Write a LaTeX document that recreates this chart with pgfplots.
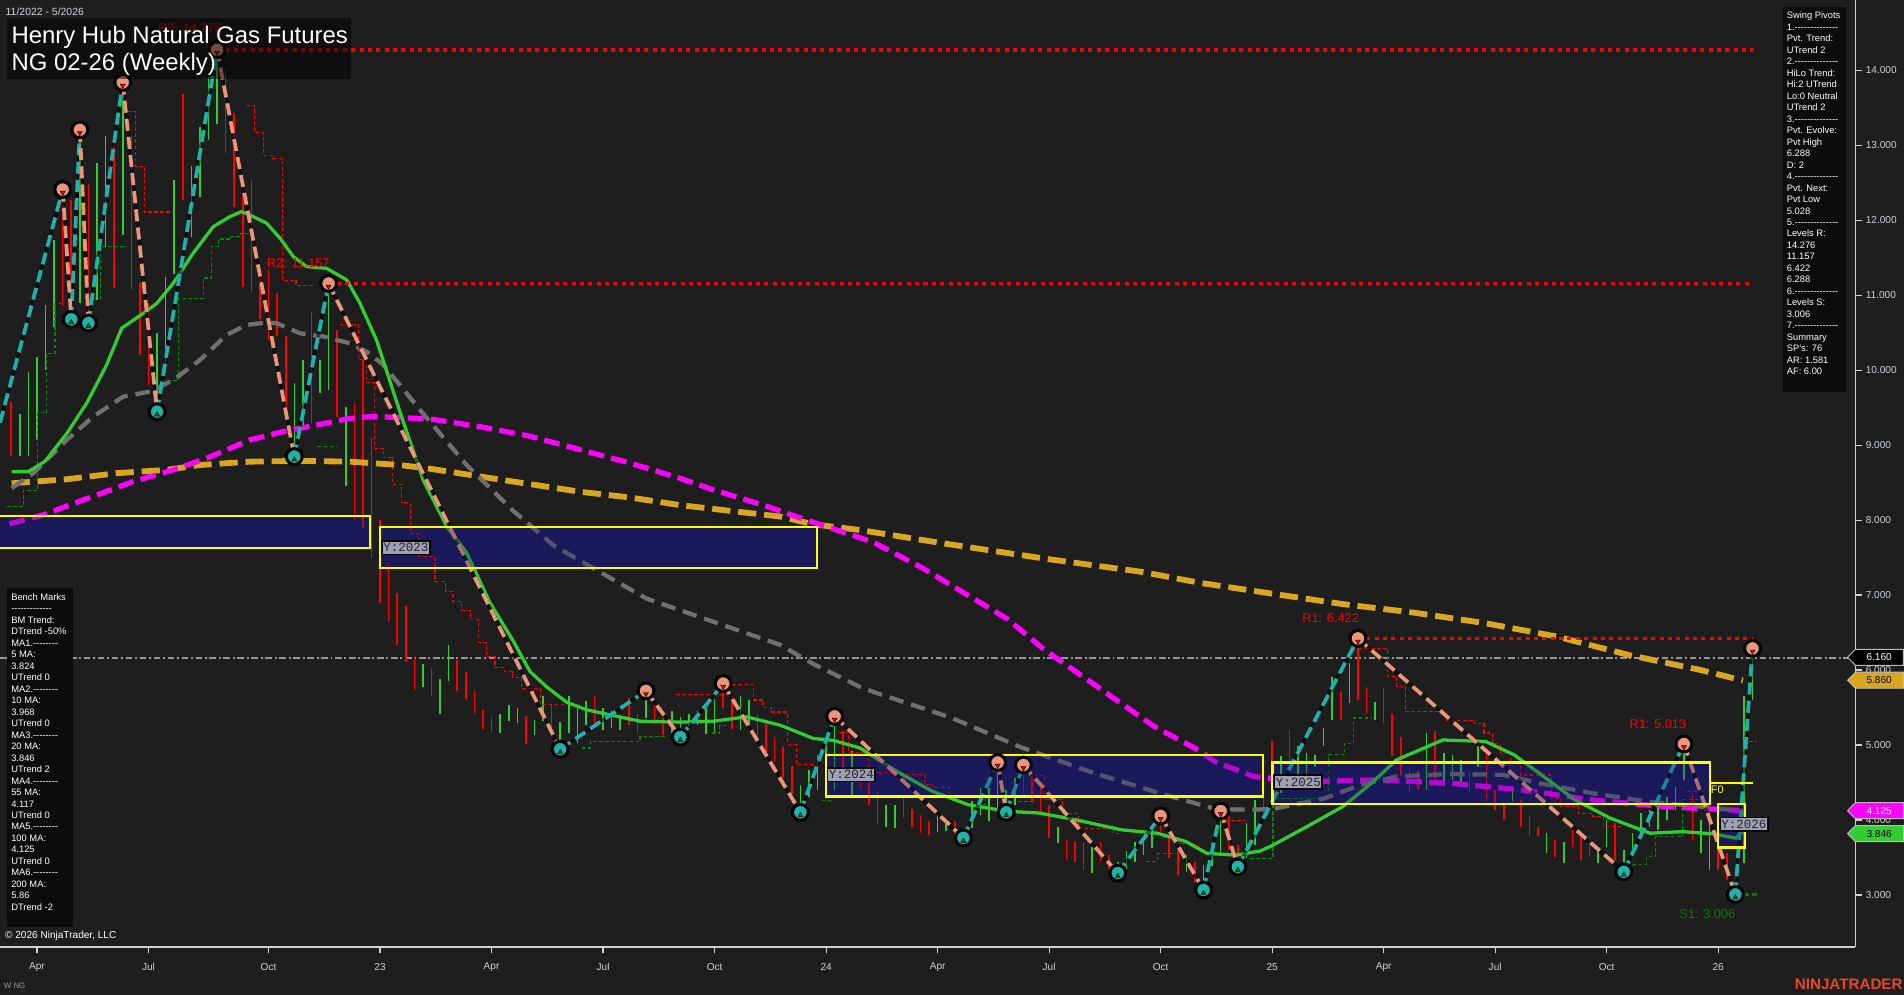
\documentclass[border=0pt]{standalone}
\usepackage{fontspec}
\setmainfont{Liberation Sans}
\newfontfamily\monof{Liberation Mono}
\usepackage{pgfplots}
\pgfplotsset{compat=1.18}
\usepackage{pgfplotstable}
\definecolor{bg}{RGB}{30,30,30}
\definecolor{candR}{RGB}{255,0,0}
\definecolor{candG}{RGB}{50,205,50}
\definecolor{teal2}{RGB}{32,178,170}
\definecolor{salmon2}{RGB}{233,150,122}
\definecolor{gold2}{RGB}{218,165,32}
\definecolor{mag2}{RGB}{255,0,255}
\definecolor{gray2}{RGB}{112,112,112}
\definecolor{ma20}{RGB}{50,205,50}
\definecolor{navyb}{RGB}{27,27,82}
\definecolor{navyo}{RGB}{25,25,112}
\definecolor{ylw}{RGB}{255,255,0}
\definecolor{stepG}{RGB}{0,140,0}
\definecolor{axcol}{RGB}{205,210,215}
\definecolor{lblbox}{RGB}{160,160,180}
\definecolor{lbltxt}{RGB}{35,35,40}
\definecolor{ntred}{RGB}{232,70,40}
\definecolor{panel}{RGB}{12,12,12}
\definecolor{s1green}{RGB}{0,128,0}
\definecolor{lastgray}{RGB}{150,150,150}
\newcommand\hyph{-{}-{}-{}-{}-{}-{}-{}-{}-{}-{}-{}-{}-{}-}
\newcommand\hyphb{-{}-{}-{}-{}-{}-{}-{}-{}-{}-{}-{}-{}-}
\newcommand\hyphs{-{}-{}-{}-{}-{}-{}-{}-}
\newcommand\panelf{\fontsize{7.7}{9}\selectfont}
\newcommand\ylab[3]{\node[anchor=west, fill=lblbox, draw=black, line width=1.5pt, inner xsep=1.2pt, inner ysep=2.2pt, text=lbltxt, font=\monof\fontsize{10.3}{11}\selectfont] at (axis cs:#1,#2) {Y:#3};}
\newcommand{\pricetag}[4]{%
  \filldraw[fill=#2, draw=gray!55, line width=0.8pt] (1521.5,#1) -- (1528,#1-6.6) -- (1567.5,#1-6.6) -- (1567.5,#1+6.6) -- (1528,#1+6.6) -- cycle;
  \node[text=#3, font=\fontsize{8.3}{10}\selectfont, inner sep=0] at (1547.5,#1) {#4};}

\pgfplotstableread{
k lo hi
-43 8.85 9.58
-37 10.85 12.41
-36 10.68 12.27
-34 10.63 12.49
-31 11.10 12.99
-29 11.07 13.12
-28 10.20 11.16
-27 9.80 10.90
-23 12.27 13.69
-18 12.90 14.00
-17 12.18 13.43
-16 11.11 12.36
-15 11.03 12.54
-14 10.68 11.29
-13 10.40 11.34
-12 10.45 11.03
-11 9.43 10.45
-8 9.29 10.78
-5 9.38 10.54
-3 8.00 9.56
-2 7.90 10.14
-1 7.50 9.10
0 6.90 8.00
1 6.64 7.42
2 6.34 7.03
3 6.11 6.85
4 5.75 6.18
6 5.65 6.03
9 5.72 6.13
10 5.62 5.98
11 5.42 5.72
12 5.21 5.47
13 5.16 5.37
17 5.01 5.39
20 5.16 5.54
25 5.27 5.65
29 5.27 5.63
30 5.16 5.42
32 5.27 5.54
33 5.13 5.37
40 5.50 5.82
41 5.21 5.65
44 5.06 5.42
45 4.87 5.28
46 4.77 5.10
47 4.56 4.97
48 4.34 4.72
54 4.61 5.19
56 4.43 4.61
57 4.20 4.52
58 3.94 4.38
61 4.03 4.29
62 3.91 4.14
63 3.82 4.07
64 3.80 3.98
67 3.76 3.98
75 4.34 4.733
76 4.25 4.61
77 4.07 4.43
78 3.76 4.20
80 3.47 3.73
81 3.44 3.71
82 3.33 3.69
84 3.44 3.71
85 3.35 3.53
91 3.80 4.053
92 3.49 3.80
93 3.26 3.62
95 3.17 3.44
99 3.60 4.05
100 3.373 3.67
103 4.09 4.40
104 4.45 5.05
106 4.71 5.20
112 5.33 5.71
114 5.60 6.422
115 5.42 5.78
117 5.29 5.76
118 4.85 5.42
119 4.58 5.11
120 4.36 4.71
121 4.40 4.65
123 4.54 5.18
127 4.36 4.62
129 4.25 4.89
130 4.13 4.40
131 4.00 4.22
133 3.91 4.27
134 3.78 4.05
135 3.78 3.91
137 3.51 3.73
139 3.64 3.87
140 3.47 3.80
141 3.51 3.78
144 3.47 3.96
153 3.73 4.36
156 3.33 3.82
157 3.20 3.56
158 3.006 3.29
}\redbars

\pgfplotstableread{
k lo hi
-42 8.85 9.41
-41 8.85 9.97
-40 9.07 10.18
-39 10.00 10.87
-38 10.58 11.74
-35 10.90 13.21
-33 10.94 12.76
-32 11.65 13.12
-30 11.80 13.84
-26 9.45 10.49
-25 9.96 11.25
-24 11.29 12.54
-22 11.78 12.72
-21 12.31 13.25
-20 13.07 13.91
-19 13.29 14.276
-10 8.85 9.83
-9 9.20 10.14
-7 9.69 10.14
-6 9.74 11.157
-4 8.45 9.51
5 5.77 6.08
7 5.42 5.88
8 5.85 6.34
14 5.16 5.42
15 5.32 5.54
16 5.29 5.50
18 5.13 5.34
19 5.32 5.65
21 4.944 5.30
22 5.16 5.65
23 5.03 5.49
24 5.27 5.59
26 5.20 5.50
27 5.22 5.45
28 5.20 5.40
31 5.36 5.72
34 5.16 5.46
35 5.106 5.37
36 5.25 5.42
37 5.27 5.45
38 5.15 5.50
39 5.17 5.62
42 5.20 5.65
43 5.25 5.60
49 4.102 4.47
50 4.30 4.67
51 4.40 4.87
52 4.30 5.06
53 4.40 5.381
55 4.30 4.92
59 3.91 4.20
60 3.89 4.20
65 3.84 4.07
66 3.85 3.94
68 3.761 3.89
69 3.89 4.25
70 4.07 4.43
71 3.98 4.43
72 4.07 4.766
73 4.102 4.40
74 4.20 4.56
79 3.69 3.91
83 3.29 3.64
86 3.292 3.44
87 3.35 3.58
88 3.44 3.71
89 3.53 3.71
90 3.62 3.89
94 3.31 3.53
96 3.065 3.40
97 3.38 3.69
98 3.53 4.118
101 3.49 3.96
102 3.67 4.27
105 4.36 4.85
107 4.53 4.98
108 4.62 4.89
109 4.71 4.87
110 4.98 5.22
111 5.33 5.91
113 5.56 6.09
116 5.33 5.58
122 4.40 5.16
124 4.45 4.89
125 4.53 4.87
126 4.44 4.80
128 4.71 4.98
132 4.25 4.42
136 3.56 3.82
138 3.42 3.71
142 3.42 3.64
143 3.64 4.00
145 3.308 3.60
146 3.51 3.82
147 3.78 4.09
148 3.91 4.13
149 3.87 4.18
150 4.00 4.31
151 4.13 4.44
152 4.53 5.013
154 3.56 4.00
155 3.33 4.09
159 3.42 5.65
160 5.60 6.288
}\greenbars

\begin{document}
\begin{tikzpicture}
\fill[bg] (0pt,-39pt) rectangle (1568pt,780pt);
\begin{axis}[
  scale only axis, width=1528pt, height=780pt,
  xmin=-44.31, xmax=172.0, ymin=2.303, ymax=14.939,
  axis x line*=bottom, axis y line*=right,
  axis line style={draw=axcol, line width=1.2pt},
  tick style={draw=axcol, line width=1pt},
  tick align=outside, major tick length=5pt,
  ytick={3,4,...,14}, scaled y ticks=false,
  yticklabel style={/pgf/number format/.cd, fixed, fixed zerofill, precision=3, assume math mode=true, /tikz/.cd},
  xtick={-40,-27,-13,0,13,26,39,52,65,78,91,104,117,130,143,156},
  xticklabels={Apr,Jul,Oct,23,Apr,Jul,Oct,24,Apr,Jul,Oct,25,Apr,Jul,Oct,26},
  xticklabel style={yshift=-4.5pt},
  ticklabel style={font=\fontsize{8.3}{10}\selectfont, text=axcol},
  unbounded coords=jump,
]
% box base fills
\fill[navyb] (axis cs:-46,7.633) rectangle (axis cs:-1.13,8.054);
\fill[navyb] (axis cs:0,7.358) rectangle (axis cs:50.96,7.909);
\fill[navyb] (axis cs:51.95,4.312) rectangle (axis cs:102.92,4.863);
\fill[navyb] (axis cs:104.05,4.215) rectangle (axis cs:155.01,4.766);
\fill[navyb] (axis cs:156.0,3.632) rectangle (axis cs:159.12,4.215);
% last price line
\addplot[draw=lastgray, line width=1.2pt, dash pattern=on 5.5pt off 2.2pt on 1.6pt off 2.2pt] coordinates {(-44.31,6.16)(172,6.16)};
% candles
\addplot[candR, line width=1.3pt, quiver={u=0, v=\thisrow{hi}-\thisrow{lo}}] table[x=k, y=lo] {\redbars};
\addplot[candG, line width=1.3pt, quiver={u=0, v=\thisrow{hi}-\thisrow{lo}}] table[x=k, y=lo] {\greenbars};
% step lines
\addplot[candR, line width=0.9pt, dash pattern=on 3pt off 2pt, const plot] coordinates {
(-29.5,13.45)(-28.5,12.72)(-27.5,12.11)(-24.5,12.11)(-24.5,nan)
(-15.6,13.53)(-14.6,13.17)(-13.6,12.87)(-12.5,12.83)(-11.4,11.2)(-9.8,11.13)(-7.7,11.13)(-7.7,nan)
(-4.7,10.61)(-2.55,10.14)(-1.6,9.83)(-0.6,8.96)(0.4,8.83)(1.4,8.48)(2.5,8.23)(3.5,7.82)(4.5,7.51)(6.4,7.18)(7.6,7.05)(8.5,6.92)(9.5,6.80)(10.5,6.67)(11.5,6.37)(12.4,6.18)(13.4,6.03)(14.5,5.98)(15.4,5.90)(16.5,5.75)(18.7,5.54)(23.3,5.54)(23.3,nan)
(34.5,5.67)(40.6,5.81)(43.5,5.60)(44.6,5.50)(45.6,5.44)(47.5,5.01)(48.5,4.74)(51.0,4.74)(51.0,nan)
(53.5,5.17)(54.6,4.90)(56.9,4.63)(60.6,4.61)(63.5,4.47)(64.4,4.43)(66.4,4.32)(68,4.32)(68,nan)
(75.5,4.59)(77.5,4.27)(79.6,4.08)(81.4,3.89)(85.5,3.82)(86.3,3.82)(86.3,nan)
(91.2,3.76)(93.1,3.69)(94.3,3.67)(95.5,3.67)(95.5,nan)
(98.5,3.99)(100.9,3.99)(100.9,nan)
(114.1,6.29)(117.4,5.91)(118.5,5.78)(119.5,5.45)(124.3,5.33)(127.6,5.29)(128.7,5.16)(129.7,5.02)(130.6,4.89)(131.8,4.78)(133,4.60)(136.6,4.29)(137.6,4.18)(139.7,4.09)(141.4,4.04)(142.6,3.91)(144.7,3.91)(144.7,nan)
(152.4,4.38)(154.2,4.38)
};
\addplot[stepG, line width=0.9pt, dash pattern=on 3pt off 2pt, const plot] coordinates {
(-43.5,8.18)(-41.6,8.40)(-39.9,9.43)(-38.9,10.22)(-37.9,10.89)(-37.0,10.89)(-37.0,nan)
(-33.5,10.96)(-32.6,11.65)(-29.5,11.65)(-29.5,nan)
(-25.5,9.86)(-23.5,10.96)(-20.6,11.23)(-19.7,11.65)(-18.8,11.75)(-17.4,11.78)(-16.3,11.82)(-15.1,11.82)(-15.1,nan)
(-7.3,8.98)(-5.0,8.98)(-5.0,nan)
(23.5,4.96)(24.5,5.05)(30.3,5.11)(33.4,5.11)(33.4,nan)
(38.7,5.16)(39.6,5.26)(40.4,5.26)(40.4,nan)
(51.5,4.26)(52.7,4.26)(52.7,nan)
(68.9,4.20)(70.6,4.33)(72.3,4.33)(72.3,nan)
(74.4,4.25)(76.4,4.25)(76.4,nan)
(89.3,3.45)(90.6,3.55)(92.7,3.55)(92.7,nan)
(101.4,3.49)(104.1,4.29)(110.6,4.87)(112.4,5.02)(113.5,5.36)(115.6,5.36)(115.6,nan)
(145.3,3.40)(147.6,3.51)(148.7,3.78)(151.8,4.27)(153.9,4.27)(153.9,nan)
(158.9,5.05)(160.5,5.05)
};
% moving averages
\addplot[gold2, line width=4.8pt, dash pattern=on 15pt off 6.5pt] coordinates {
(-42.95,8.491)(-36.52,8.545)(-30.72,8.626)(-24.92,8.670)(-20.99,8.735)(-15.16,8.780)(-9.34,8.790)(-3.51,8.780)(2.32,8.735)(5.80,8.686)(11.65,8.582)(17.47,8.480)(23.30,8.378)(29.13,8.302)(34.97,8.200)(40.78,8.124)(46.62,8.048)(50.51,7.944)(55.95,7.868)(66.11,7.682)(77.43,7.487)(88.76,7.310)(95.58,7.163)(103.91,7.020)(112.23,6.880)(120.57,6.765)(128.89,6.624)(137.23,6.446)(145.56,6.201)(153.88,6.002)(158.87,5.860)};
\addplot[mag2, line width=4.3pt, dash pattern=on 13pt off 6pt] coordinates {
(-43.2,7.95)(-39.26,8.070)(-34.60,8.270)(-28.77,8.514)(-24.11,8.670)(-20.24,8.825)(-15.16,9.070)(-11.28,9.182)(-7.39,9.269)(-3.51,9.358)(-0.79,9.383)(5.80,9.350)(11.65,9.247)(17.47,9.119)(23.30,8.940)(29.13,8.762)(34.97,8.558)(38.84,8.404)(44.68,8.200)(50.51,7.970)(55.95,7.766)(57.62,7.698)(63.28,7.358)(68.94,6.969)(73.19,6.677)(77.43,6.272)(83.10,5.819)(90.18,5.252)(95.58,4.921)(97.25,4.782)(101.83,4.579)(108.07,4.511)(116.41,4.534)(124.72,4.490)(133.07,4.401)(141.38,4.267)(149.72,4.178)(155.96,4.142)(158.87,4.125)};
\addplot[gray2, line width=3.5pt, dash pattern=on 12pt off 6.5pt] coordinates {
(-42.95,8.427)(-40.43,8.626)(-36.52,9.070)(-33.42,9.383)(-29.93,9.648)(-26.83,9.715)(-24.11,9.868)(-20.99,10.137)(-17.88,10.471)(-15.57,10.604)(-13.22,10.635)(-12.06,10.627)(-9.34,10.492)(-6.61,10.449)(-3.51,10.359)(-1.56,10.248)(0.38,10.071)(4.66,9.470)(10.09,8.735)(15.53,8.124)(20.19,7.665)(24.86,7.358)(31.07,6.953)(38.84,6.645)(46.62,6.337)(50.51,6.081)(55.95,5.775)(58.11,5.684)(66.45,5.370)(74.77,4.967)(83.10,4.630)(91.42,4.338)(97.68,4.137)(103.91,4.142)(110.14,4.289)(114.33,4.468)(118.49,4.579)(124.72,4.613)(130.95,4.601)(135.14,4.490)(141.38,4.356)(147.64,4.246)(153.88,4.178)(158.87,4.117)};
\addplot[ma20, line width=2.7pt, line join=round] coordinates {
(-42.95,8.647)(-41.01,8.647)(-39.07,8.783)(-36.52,9.156)(-34.20,9.561)(-31.88,10.071)(-30.12,10.561)(-27.60,10.760)(-26.05,10.889)(-24.11,11.160)(-21.80,11.560)(-19.44,11.916)(-17.50,12.049)(-16.14,12.116)(-14.78,12.049)(-13.22,11.960)(-11.66,11.761)(-10.11,11.516)(-8.56,11.382)(-6.23,11.359)(-3.89,11.205)(-2.34,10.893)(-0.42,10.404)(2.3,9.45)(5.04,8.532)(7.76,7.920)(10.09,7.562)(12.81,6.898)(15.53,6.387)(17.47,5.981)(19.42,5.775)(21.74,5.571)(24.08,5.469)(27.18,5.393)(30.29,5.317)(34.97,5.305)(38.84,5.317)(42.74,5.376)(46.62,5.265)(50.51,5.087)(52.83,5.061)(55.95,4.960)(60.17,4.652)(64.37,4.383)(68.52,4.204)(73.10,4.115)(76.86,4.092)(81.02,4.004)(86.42,3.868)(90.60,3.823)(93.93,3.713)(96.41,3.554)(99.76,3.531)(102.59,3.585)(103.91,3.653)(108.07,3.912)(112.23,4.178)(115.57,4.490)(118.49,4.801)(123.90,5.067)(128.89,5.046)(132.22,4.868)(135.14,4.623)(139.30,4.267)(143.46,4.022)(148.05,3.823)(151.80,3.844)(155.53,3.813)(158.04,3.757)(158.87,3.846)};
% swing zigzag
\addplot[black, opacity=0.5, line width=3.2pt] coordinates {
(-44.31,9.30)(-37,12.41)(-36,10.679)(-35,13.206)(-34,10.630)(-30,13.838)(-26,9.447)(-19,14.276)(-10,8.848)(-6,11.157)(21,4.944)(31,5.722)(35,5.106)(40,5.819)(49,4.102)(53,5.381)(68,3.761)(72,4.766)(73,4.102)(75,4.733)(86,3.292)(91,4.053)(96,3.065)(98,4.118)(100,3.373)(114,6.422)(145,3.308)(152,5.013)(158,3.006)(160,6.288)};
\addplot[teal2, line width=3.1pt, dash pattern=on 10pt off 5pt] coordinates {
(-44.31,9.30)(-37,12.41)(-37,nan)
(-36,10.679)(-35,13.206)(-35,nan)
(-34,10.630)(-30,13.838)(-30,nan)
(-26,9.447)(-19,14.276)(-19,nan)
(-10,8.848)(-6,11.157)(-6,nan)
(21,4.944)(31,5.722)(31,nan)
(35,5.106)(40,5.819)(40,nan)
(49,4.102)(53,5.381)(53,nan)
(68,3.761)(72,4.766)(72,nan)
(73,4.102)(75,4.733)(75,nan)
(86,3.292)(91,4.053)(91,nan)
(96,3.065)(98,4.118)(98,nan)
(100,3.373)(114,6.422)(114,nan)
(145,3.308)(152,5.013)(152,nan)
(158,3.006)(160,6.288)};
\addplot[salmon2, line width=3.1pt, dash pattern=on 10pt off 5pt] coordinates {
(-37,12.41)(-36,10.679)(-36,nan)
(-35,13.206)(-34,10.630)(-34,nan)
(-30,13.838)(-26,9.447)(-26,nan)
(-19,14.276)(-10,8.848)(-10,nan)
(-6,11.157)(21,4.944)(21,nan)
(31,5.722)(35,5.106)(35,nan)
(40,5.819)(49,4.102)(49,nan)
(53,5.381)(68,3.761)(68,nan)
(72,4.766)(73,4.102)(73,nan)
(75,4.733)(86,3.292)(86,nan)
(91,4.053)(96,3.065)(96,nan)
(98,4.118)(100,3.373)(100,nan)
(114,6.422)(145,3.308)(145,nan)
(152,5.013)(158,3.006)};
% resistance / support lines
\addplot[candR, line width=3pt, dash pattern=on 3.3pt off 3.6pt] coordinates {(-19,14.276)(160,14.276)};
\addplot[candR, line width=3pt, dash pattern=on 3.3pt off 3.6pt] coordinates {(-6,11.157)(160,11.157)};
\addplot[candR, line width=3pt, dash pattern=on 3.3pt off 3.6pt] coordinates {(114,6.422)(160,6.422)};
\addplot[s1green, line width=2.5pt, dash pattern=on 4pt off 3pt] coordinates {(158,3.006)(160.6,3.006)};
% pivot circles
\addplot[only marks, mark=*, mark size=6.5pt, mark options={fill=salmon2, draw=black, line width=2.5pt}] coordinates {
(-37,12.41)(-35,13.206)(-30,13.838)(-19,14.276)(-6,11.157)(31,5.722)(40,5.819)(53,5.381)(72,4.766)(75,4.733)(91,4.053)(98,4.118)(114,6.422)(152,5.013)(160,6.288)};
\addplot[only marks, mark=*, mark size=6.5pt, mark options={fill=teal2, draw=black, line width=2.5pt}] coordinates {
(-36,10.679)(-34,10.630)(-26,9.447)(-10,8.848)(21,4.944)(35,5.106)(49,4.102)(68,3.761)(73,4.102)(86,3.292)(96,3.065)(100,3.373)(145,3.308)(158,3.006)};
\addplot[only marks, mark=triangle*, mark size=2.3pt, mark options={fill=red, draw=none, rotate=180, yshift=2.5pt}] coordinates {
(-37,12.41)(-35,13.206)(-30,13.838)(-19,14.276)(-6,11.157)(31,5.722)(40,5.819)(53,5.381)(72,4.766)(75,4.733)(91,4.053)(98,4.118)(114,6.422)(152,5.013)(160,6.288)};
\addplot[only marks, mark=triangle*, mark size=2.3pt, mark options={fill=s1green, draw=none, yshift=-2.5pt}] coordinates {
(-36,10.679)(-34,10.630)(-26,9.447)(-10,8.848)(21,4.944)(35,5.106)(49,4.102)(68,3.761)(73,4.102)(86,3.292)(96,3.065)(100,3.373)(145,3.308)(158,3.006)};
% box overlays and borders
\fill[navyo, opacity=0.3] (axis cs:-46,7.633) rectangle (axis cs:-1.13,8.054);
\fill[navyo, opacity=0.3] (axis cs:0,7.358) rectangle (axis cs:50.96,7.909);
\fill[navyo, opacity=0.3] (axis cs:51.95,4.312) rectangle (axis cs:102.92,4.863);
\fill[navyo, opacity=0.3] (axis cs:104.05,4.215) rectangle (axis cs:155.01,4.766);
\fill[navyo, opacity=0.3] (axis cs:156.0,3.632) rectangle (axis cs:159.12,4.215);
\draw[ylw, line width=1.8pt] (axis cs:-46,7.633) rectangle (axis cs:-1.13,8.054);
\draw[ylw, line width=1.8pt] (axis cs:0,7.358) rectangle (axis cs:50.96,7.909);
\draw[ylw, line width=1.8pt] (axis cs:51.95,4.312) rectangle (axis cs:102.92,4.863);
\draw[ylw, line width=1.8pt] (axis cs:104.05,4.215) rectangle (axis cs:155.01,4.766);
\draw[ylw, line width=1.8pt] (axis cs:156.0,3.632) rectangle (axis cs:159.12,4.215);
\draw[ylw, line width=1.8pt] (axis cs:155.01,4.49) -- (axis cs:160,4.49);
\node[anchor=west, text=ylw, font=\fontsize{9}{10}\selectfont, inner sep=0.5pt] at (axis cs:155.05,4.40) {F0};
% year labels
\ylab{0.1}{7.633}{2023}
\ylab{52.05}{4.604}{2024}
\ylab{104.15}{4.507}{2025}
\ylab{156.1}{3.94}{2026}
% level labels
\node[anchor=base east, text=candR, font=\fontsize{10.5}{12}\selectfont, inner sep=0] at (axis cs:-19,14.276) [yshift=14pt, xshift=4pt] {R3: 14.276};
\node[anchor=base east, text=candR, font=\fontsize{10.5}{12}\selectfont, inner sep=0] at (axis cs:-6,11.157) [yshift=13.5pt, xshift=1pt] {R2: 11.157};
\node[anchor=base east, text=candR, font=\fontsize{10.5}{12}\selectfont, inner sep=0] at (axis cs:114,6.422) [yshift=13.5pt, xshift=1pt] {R1: 6.422};
\node[anchor=base east, text=candR, font=\fontsize{10.5}{12}\selectfont, inner sep=0] at (axis cs:152,5.013) [yshift=13pt, xshift=2pt] {R1: 5.013};
\node[anchor=base east, text=s1green, font=\fontsize{10.5}{12}\selectfont, inner sep=0] at (axis cs:158,3.006) [yshift=-20pt, xshift=0pt] {S1: 3.006};
\end{axis}
\begin{scope}[x=1pt,y=-1pt,shift={(0pt,780pt)}]
\pricetag{541.3}{black}{white}{6.160}
\pricetag{560.2}{gold2}{black}{5.860}
\pricetag{667.6}{mag2}{white}{4.125}
\pricetag{686.5}{ma20}{black}{3.846}
% title
\node[anchor=west, text=axcol, font=\fontsize{8.6}{10}\selectfont, inner sep=0] at (4.5,9.6) {11/2022 - 5/2026};
\fill[black, opacity=0.5] (6,15) rectangle (289,65);
\node[anchor=base west, text=white, font=\fontsize{19.7}{22}\selectfont, inner sep=0] at (9.3,35.7) {Henry Hub Natural Gas Futures};
\node[anchor=base west, text=white, font=\fontsize{19.7}{22}\selectfont, inner sep=0] at (9.3,58.2) {NG 02-26 (Weekly)};
% swing pivots panel
\fill[panel] (1468.6,6) rectangle (1520.3,322.6);
\foreach \t [count=\i from 0] in {Swing Pivots,1.\hyph,Pvt. Trend:,UTrend 2,2.\hyph,HiLo Trend:,Hi:2 UTrend,Lo:0 Neutral,UTrend 2,3.\hyph,Pvt. Evolve:,Pvt High,6.288,D: 2,4.\hyph,Pvt. Next:,Pvt Low,5.028,5.\hyph,Levels R:,14.276,11.157,6.422,6.288,6.\hyph,Levels S:,3.006,7.\hyph,Summary,SP's: 76,AR: 1.581,AF: 6.00}
  \node[anchor=base west, inner sep=0, font=\panelf, text=white] at (1471.3,{15.6+\i*9.45}) {\t};
% bench marks panel
\fill[panel] (5.5,484.5) rectangle (59.9,763.1);
\foreach \t [count=\i from 0] in {Bench Marks,\hyphb,BM Trend:,DTrend -50\%,MA1.\hyphs,5 MA:,3.824,UTrend 0,MA2.\hyphs,10 MA:,3.968,UTrend 0,MA3.\hyphs,20 MA:,3.846,UTrend 2,MA4.\hyphs,55 MA:,4.117,UTrend 0,MA5.\hyphs,100 MA:,4.125,UTrend 0,MA6.\hyphs,200 MA:,5.86,DTrend -2}
  \node[anchor=base west, inner sep=0, font=\panelf, text=white] at (9.1,{494.5+\i*9.45}) {\t};
% footer
\node[anchor=base west, inner sep=0, text=white, font=\fontsize{8.3}{10}\selectfont] at (4,773) {© 2026 NinjaTrader, LLC};
\node[anchor=base west, inner sep=0, text=gray!80, font=\fontsize{6.5}{8}\selectfont] at (3,814) {W NG};
\node[anchor=base east, inner sep=0, text=ntred, font=\bfseries\fontsize{12.5}{14}\selectfont] at (1567,815) {NINJATRADER};
\end{scope}
\pgfresetboundingbox
\path[use as bounding box] (0pt,-39pt) rectangle (1568pt,780pt);
\end{tikzpicture}
\end{document}
